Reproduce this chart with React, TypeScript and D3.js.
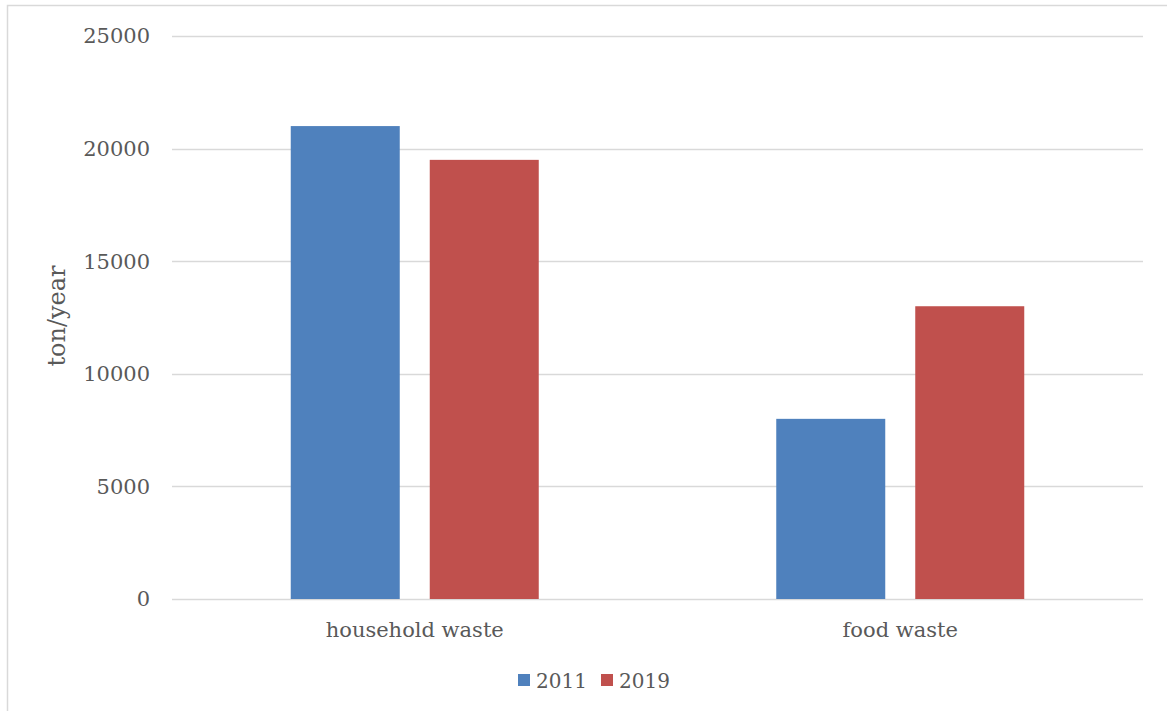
import React from "react";
import * as d3 from "d3";

const categories = ["household waste", "food waste"];
const years = ["2011", "2019"];
const values2011 = [21000, 8000];
const values2019 = [19500, 13000];
const yTicks = [0, 5000, 10000, 15000, 20000, 25000];
const colors = ["#4F81BD", "#C0504D"];

const W = 1167;
const H = 711;
const FONT = "'DejaVu Serif', Georgia, serif";
const TEXT = "#595959";

export default function App() {
  const left = 172;
  const right = 1143;
  const top = 36;
  const bottom = 599;
  const y = d3.scaleLinear().domain([0, 25000]).range([bottom, top]);
  const x0 = d3.scaleBand<string>().domain(categories).range([left, right]).padding(0);
  const groupW = 248;
  const x1 = d3.scaleBand<string>().domain(years).range([0, groupW]).paddingInner(30 / 139);
  const series = [values2011, values2019];

  return (
    <svg
      width={W}
      height={H}
      style={{ position: "absolute", left: 0, top: 0, background: "#fff" }}
    >
      <rect x={7.5} y={5.5} width={1300} height={1000} fill="#fff" stroke="#d9d9d9" strokeWidth={1.5} />
      {yTicks.map((t) => (
        <g key={t}>
          <line x1={left} x2={right} y1={Math.round(y(t)) + 0.5} y2={Math.round(y(t)) + 0.5} stroke="#d9d9d9" strokeWidth={1.5} />
          <text
            x={150}
            y={y(t)}
            dy="0.35em"
            textAnchor="end"
            fontFamily={FONT}
            fontSize={21}
            fill={TEXT}
          >
            {t}
          </text>
        </g>
      ))}
      {categories.map((c, ci) => {
        const off = x0(c)! + (x0.bandwidth() - groupW) / 2;
        return (
          <g key={c}>
            {years.map((yr, si) => (
              <rect
                key={yr}
                x={off + x1(yr)!}
                y={y(series[si][ci])}
                width={x1.bandwidth()}
                height={bottom - y(series[si][ci])}
                fill={colors[si]}
              />
            ))}
            <text
              x={x0(c)! + x0.bandwidth() / 2}
              y={637}
              textAnchor="middle"
              fontFamily={FONT}
              fontSize={21}
              fill={TEXT}
            >
              {c}
            </text>
          </g>
        );
      })}
      <text
        transform={`translate(65, 316) rotate(-90)`}
        textAnchor="middle"
        fontFamily={FONT}
        fontSize={24}
        fill={TEXT}
      >
        ton/year
      </text>
      {years.map((yr, i) => {
        const lx = [518, 601][i];
        return (
          <g key={yr}>
            <rect x={lx} y={674} width={12} height={12} fill={colors[i]} />
            <text x={lx + 18} y={688} fontFamily={FONT} fontSize={20} fill={TEXT}>
              {yr}
            </text>
          </g>
        );
      })}
    </svg>
  );
}
